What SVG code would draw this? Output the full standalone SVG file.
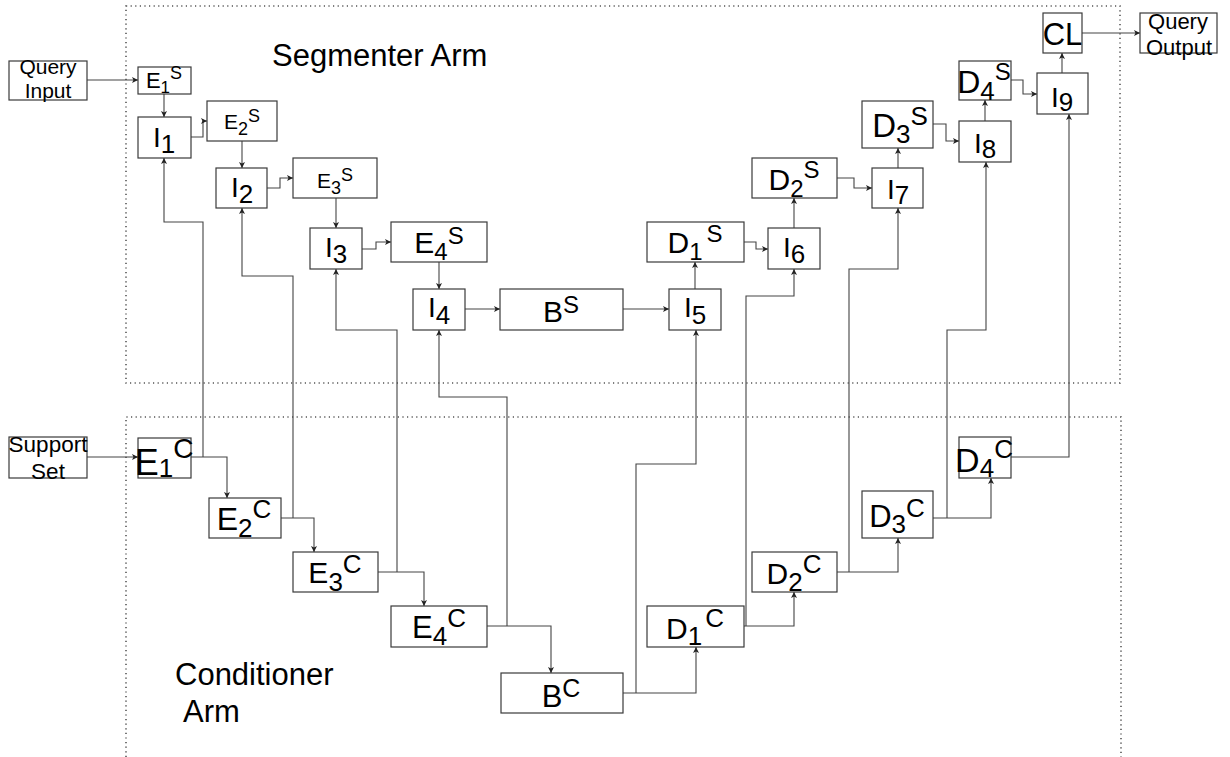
<svg xmlns="http://www.w3.org/2000/svg" width="1230" height="757" viewBox="0 0 1230 757">
<defs>
<marker id="ah" markerUnits="userSpaceOnUse" markerWidth="8" markerHeight="8" refX="6" refY="3" orient="auto">
<path d="M0,0 L6,3 L0,6 L1.5,3 z" fill="#222"/>
</marker>
<style>
.box{fill:#fff;stroke:#3a3a3a;stroke-width:1.2}
.ar{fill:none;stroke:#444;stroke-width:1.1;marker-end:url(#ah)}
.dot{fill:none;stroke:#555;stroke-width:1.6;stroke-dasharray:1.2 3.4}
text{font-family:"Liberation Sans",Arial,Helvetica,sans-serif;fill:#000}
.lb{text-anchor:middle}
</style>
</defs>
<rect width="1230" height="757" fill="#fff"/>
<g id="regions">
<rect class="dot" x="126" y="6" width="994" height="377"/>
<path class="dot" d="M126,757 V417 H1121 V757"/>
<text x="272" y="66" font-size="31">Segmenter Arm</text>
<text x="175" y="685" font-size="31">Conditioner</text>
<text x="183" y="722" font-size="31">Arm</text>
</g>
<g id="connectors">
<path class="ar" d="M87,80 H138"/>
<path class="ar" d="M164,94 V117"/>
<path class="ar" d="M191,137 H203 V121 H207"/>
<path class="ar" d="M242,141 V168"/>
<path class="ar" d="M267,188 H280 V178 H293"/>
<path class="ar" d="M336,198 V228"/>
<path class="ar" d="M362,249 H376 V242 H391"/>
<path class="ar" d="M439,262 V289"/>
<path class="ar" d="M465,309 H500"/>
<path class="ar" d="M623,309 H669"/>
<path class="ar" d="M695,289 V262"/>
<path class="ar" d="M744,242 H756 V249 H768"/>
<path class="ar" d="M794,228 V198"/>
<path class="ar" d="M837,178 H854 V188 H872"/>
<path class="ar" d="M898,168 V148"/>
<path class="ar" d="M933,124 H946 V141 H959"/>
<path class="ar" d="M985,121 V100"/>
<path class="ar" d="M1011,80 H1023 V94 H1037"/>
<path class="ar" d="M1062,73 V53"/>
<path class="ar" d="M1082,33 H1140"/>
<path class="ar" d="M87,457 H138"/>
<path class="ar" d="M191,457 H227 V498"/>
<path class="ar" d="M281,518 H314 V552"/>
<path class="ar" d="M378,572 H424 V606"/>
<path class="ar" d="M487,626 H551 V673"/>
<path class="ar" d="M623,693 H696 V647"/>
<path class="ar" d="M744,626 H794 V592"/>
<path class="ar" d="M837,572 H898 V538"/>
<path class="ar" d="M933,518 H991 V478"/>
<path class="ar" d="M203,457 V222 H164 V158"/>
<path class="ar" d="M293,518 V276 H242 V208"/>
<path class="ar" d="M397,572 V330 H336 V269"/>
<path class="ar" d="M507,626 V397 H439 V330"/>
<path class="ar" d="M636,693 V464 H696 V330"/>
<path class="ar" d="M746,626 V296 H794 V269"/>
<path class="ar" d="M849,572 V269 H898 V208"/>
<path class="ar" d="M947,518 V330 H986 V162"/>
<path class="ar" d="M1011,457 H1069 V114"/>
</g>
<g id="query-input"><rect class="box" x="9" y="61" width="78" height="39"/><text class="lb" x="48" y="74" font-size="21">Query</text><text class="lb" x="48" y="98" font-size="21">Input</text></g>
<g id="query-output"><rect class="box" x="1140" y="13" width="77" height="40"/><text class="lb" x="1178" y="29" font-size="22">Query</text><text class="lb" x="1179" y="55" font-size="22">Output</text></g>
<g id="support-set"><rect class="box" x="9" y="437" width="78" height="41"/><text class="lb" x="48" y="452" font-size="22.5">Support</text><text class="lb" x="48" y="479" font-size="22.5">Set</text></g>
<g id="E1S"><rect class="box" x="138" y="67" width="53" height="27"/><text class="lb" x="164" y="88" font-size="22">E<tspan font-size="17" dy="5">1</tspan><tspan font-size="18" dy="-14">S</tspan></text></g>
<g id="I1"><rect class="box" x="138" y="117" width="53" height="41"/><text class="lb" x="164" y="147" font-size="28">I<tspan font-size="26" dy="6">1</tspan></text></g>
<g id="E2S"><rect class="box" x="207" y="101" width="70" height="40"/><text class="lb" x="242" y="129" font-size="21">E<tspan font-size="18" dy="6">2</tspan><tspan font-size="18" dy="-13">S</tspan></text></g>
<g id="I2"><rect class="box" x="216" y="168" width="51" height="40"/><text class="lb" x="242" y="197" font-size="28">I<tspan font-size="26" dy="6">2</tspan></text></g>
<g id="E3S"><rect class="box" x="293" y="158" width="84" height="40"/><text class="lb" x="335" y="188" font-size="21">E<tspan font-size="18" dy="6">3</tspan><tspan font-size="18" dy="-13">S</tspan></text></g>
<g id="I3"><rect class="box" x="310" y="228" width="52" height="41"/><text class="lb" x="336" y="257" font-size="28">I<tspan font-size="26" dy="6">3</tspan></text></g>
<g id="E4S"><rect class="box" x="391" y="222" width="96" height="40"/><text class="lb" x="439" y="253" font-size="30">E<tspan font-size="24" dy="7">4</tspan><tspan font-size="24" dy="-16">S</tspan></text></g>
<g id="I4"><rect class="box" x="413" y="289" width="52" height="41"/><text class="lb" x="439" y="317" font-size="28">I<tspan font-size="26" dy="7">4</tspan></text></g>
<g id="BS"><rect class="box" x="500" y="289" width="123" height="41"/><text class="lb" x="561" y="322" font-size="30">B<tspan font-size="24" dy="-9">S</tspan></text></g>
<g id="I5"><rect class="box" x="669" y="289" width="52" height="41"/><text class="lb" x="695" y="317" font-size="28">I<tspan font-size="26" dy="7">5</tspan></text></g>
<g id="D1S"><rect class="box" x="647" y="222" width="97" height="40"/><text class="lb" x="695" y="253" font-size="30">D<tspan font-size="24" dy="7">1</tspan><tspan font-size="24" dx="4" dy="-18">S</tspan></text></g>
<g id="I6"><rect class="box" x="768" y="228" width="52" height="41"/><text class="lb" x="794" y="257" font-size="28">I<tspan font-size="26" dy="6">6</tspan></text></g>
<g id="D2S"><rect class="box" x="752" y="158" width="85" height="40"/><text class="lb" x="794" y="190" font-size="30">D<tspan font-size="24" dy="7">2</tspan><tspan font-size="24" dy="-19">S</tspan></text></g>
<g id="I7"><rect class="box" x="872" y="168" width="51" height="40"/><text class="lb" x="898" y="199" font-size="28">I<tspan font-size="26" dy="5">7</tspan></text></g>
<g id="D3S"><rect class="box" x="862" y="101" width="71" height="47"/><text class="lb" x="900" y="137" font-size="33">D<tspan font-size="26" dy="6">3</tspan><tspan font-size="26" dy="-18">S</tspan></text></g>
<g id="I8"><rect class="box" x="959" y="121" width="52" height="41"/><text class="lb" x="985" y="153" font-size="28">I<tspan font-size="26" dy="5">8</tspan></text></g>
<g id="D4S"><rect class="box" x="959" y="61" width="52" height="39"/><text class="lb" x="984" y="93" font-size="32">D<tspan font-size="26" dy="7">4</tspan><tspan font-size="24" dy="-20">S</tspan></text></g>
<g id="I9"><rect class="box" x="1037" y="73" width="51" height="41"/><text class="lb" x="1062" y="107" font-size="28">I<tspan font-size="26" dy="4">9</tspan></text></g>
<g id="CL"><rect class="box" x="1043" y="13" width="39" height="40"/><text class="lb" x="1062.5" y="45" font-size="31">CL</text></g>
<g id="E1C"><rect class="box" x="138" y="438" width="53" height="40"/><text class="lb" x="164" y="475" font-size="36">E<tspan font-size="26" dy="2">1</tspan><tspan font-size="28" dy="-19">C</tspan></text></g>
<g id="E2C"><rect class="box" x="209" y="498" width="72" height="40"/><text class="lb" x="244" y="530" font-size="32">E<tspan font-size="26" dy="7">2</tspan><tspan font-size="26" dy="-19">C</tspan></text></g>
<g id="E3C"><rect class="box" x="293" y="552" width="85" height="40"/><text class="lb" x="335" y="583" font-size="30">E<tspan font-size="26" dy="8">3</tspan><tspan font-size="26" dy="-18">C</tspan></text></g>
<g id="E4C"><rect class="box" x="391" y="606" width="96" height="41"/><text class="lb" x="439" y="638" font-size="31">E<tspan font-size="26" dy="7">4</tspan><tspan font-size="26" dy="-18">C</tspan></text></g>
<g id="BC"><rect class="box" x="501" y="673" width="122" height="40"/><text class="lb" x="561" y="707" font-size="31">B<tspan font-size="25" dy="-10">C</tspan></text></g>
<g id="D1C"><rect class="box" x="647" y="606" width="97" height="41"/><text class="lb" x="695" y="639" font-size="30">D<tspan font-size="26" dy="6">1</tspan><tspan font-size="26" dx="3" dy="-18">C</tspan></text></g>
<g id="D2C"><rect class="box" x="752" y="552" width="85" height="40"/><text class="lb" x="794" y="584" font-size="30">D<tspan font-size="26" dy="7">2</tspan><tspan font-size="26" dy="-18">C</tspan></text></g>
<g id="D3C"><rect class="box" x="862" y="491" width="71" height="47"/><text class="lb" x="897" y="527" font-size="31">D<tspan font-size="26" dy="6">3</tspan><tspan font-size="26" dy="-16">C</tspan></text></g>
<g id="D4C"><rect class="box" x="959" y="437" width="52" height="41"/><text class="lb" x="984" y="472" font-size="34">D<tspan font-size="26" dy="5">4</tspan><tspan font-size="26" dy="-19">C</tspan></text></g>
</svg>
